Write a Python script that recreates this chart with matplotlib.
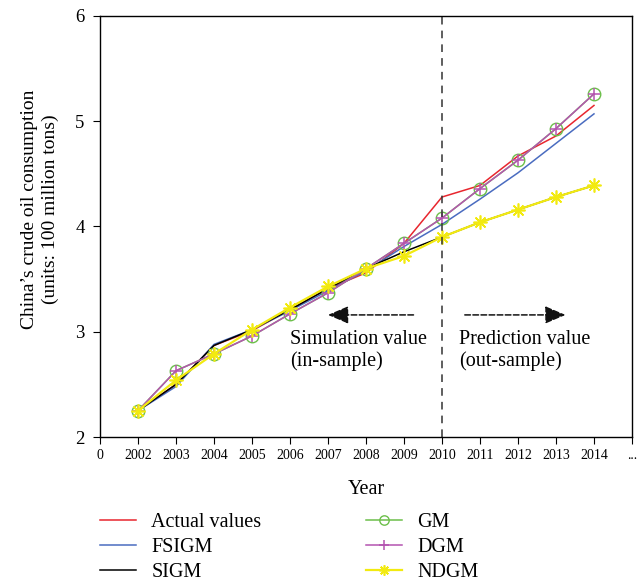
import matplotlib.pyplot as plt

OUT = "out.png"
ROUGE, BLEU, NOIR, VERT, VIOLET, JAUNE = "#e8262e", "#4a6cc0", "#000000", "#6cbf4a", "#b454b0", "#f2ea10"

annees = ["0", "2002", "2003", "2004", "2005", "2006", "2007", "2008",
          "2009", "2010", "2011", "2012", "2013", "2014", "..."]
pos = list(range(1, 14))  # 2002 .. 2014

reel = [2.25, 2.50, 2.87, 3.01, 3.21, 3.41, 3.56, 3.84, 4.28, 4.39, 4.67, 4.86, 5.15]
fsigm = [2.25, 2.48, 2.88, 3.02, 3.20, 3.39, 3.58, 3.81, 4.02, 4.26, 4.51, 4.79, 5.07]
sigm = [2.25, 2.50, 2.87, 3.02, 3.21, 3.41, 3.60, 3.76, 3.90, 4.04, 4.16, 4.28, 4.39]
gm = [2.25, 2.63, 2.79, 2.96, 3.17, 3.37, 3.60, 3.84, 4.08, 4.36, 4.63, 4.93, 5.26]
dgm = [2.25, 2.63, 2.79, 2.96, 3.17, 3.37, 3.60, 3.84, 4.08, 4.36, 4.63, 4.93, 5.26]
ndgm = [2.25, 2.54, 2.79, 3.02, 3.23, 3.43, 3.60, 3.72, 3.90, 4.04, 4.16, 4.28, 4.39]

plt.rcParams["font.family"] = ["Liberation Serif", "DejaVu Serif"]

fig = plt.figure(figsize=(6.42, 5.83), dpi=100)
ax = fig.add_axes([0.1558, 0.2504, 0.8286, 0.7222])

ax.plot(pos, reel, color=ROUGE, lw=1.1, label="Actual values")
ax.plot(pos, fsigm, color=BLEU, lw=1.1, label="FSIGM")
ax.plot(pos, sigm, color=NOIR, lw=1.1, label="SIGM")
ax.plot(pos, gm, color=VERT, lw=1.1, marker="o", ms=9, mfc="none", mew=1.0, label="GM")
ax.plot(pos, dgm, color=VIOLET, lw=1.1, marker="+", ms=9, mew=1.1, label="DGM")
ax.plot(pos, ndgm, color=JAUNE, lw=1.6, marker=(8, 2, 0), ms=10, mew=1.2, label="NDGM")

ax.axvline(9, color="#333333", lw=1.1, ls=(0, (5, 4)))
ax.annotate("", xy=(6.0, 3.16), xytext=(8.25, 3.16),
            arrowprops=dict(arrowstyle="-|>,head_length=0.7,head_width=0.3", lw=1.1,
                            ls="--", color="#111111", mutation_scale=18, shrinkA=0, shrinkB=0))
ax.annotate("", xy=(12.25, 3.16), xytext=(9.6, 3.16),
            arrowprops=dict(arrowstyle="-|>,head_length=0.7,head_width=0.3", lw=1.1,
                            ls="--", color="#111111", mutation_scale=18, shrinkA=0, shrinkB=0))
ax.text(5.0, 3.02, "Simulation value\n(in-sample)", fontsize=14.5, va="top",
        linespacing=1.2)
ax.text(9.45, 3.02, "Prediction value\n(out-sample)", fontsize=14.5, va="top",
        linespacing=1.2)

ax.set_xlim(0, 14)
ax.set_ylim(2, 6)
ax.set_xticks(range(15))
ax.set_xticklabels(annees, fontsize=10)
ax.set_yticks([2, 3, 4, 5, 6])
ax.tick_params(axis="y", labelsize=13.5, direction="out", length=5, pad=6)
ax.tick_params(axis="x", direction="out", length=5)
ax.set_xlabel("Year", fontsize=14.5, labelpad=13)
ax.set_ylabel("China’s crude oil consumption\n(units: 100 million tons)", fontsize=14,
              linespacing=1.25)
ax.yaxis.set_label_coords(-0.078, 0.54)
for s in ax.spines.values():
    s.set_linewidth(1.0)

fig.legend(*ax.get_legend_handles_labels(), loc="upper left",
           bbox_to_anchor=(0.1558, 0.12), ncol=2, frameon=False, fontsize=14.5,
           handlelength=1.8, handletextpad=0.75, columnspacing=5.2, labelspacing=0.3,
           borderpad=0, borderaxespad=0, markerscale=0.75)

fig.savefig(OUT, dpi=100)
